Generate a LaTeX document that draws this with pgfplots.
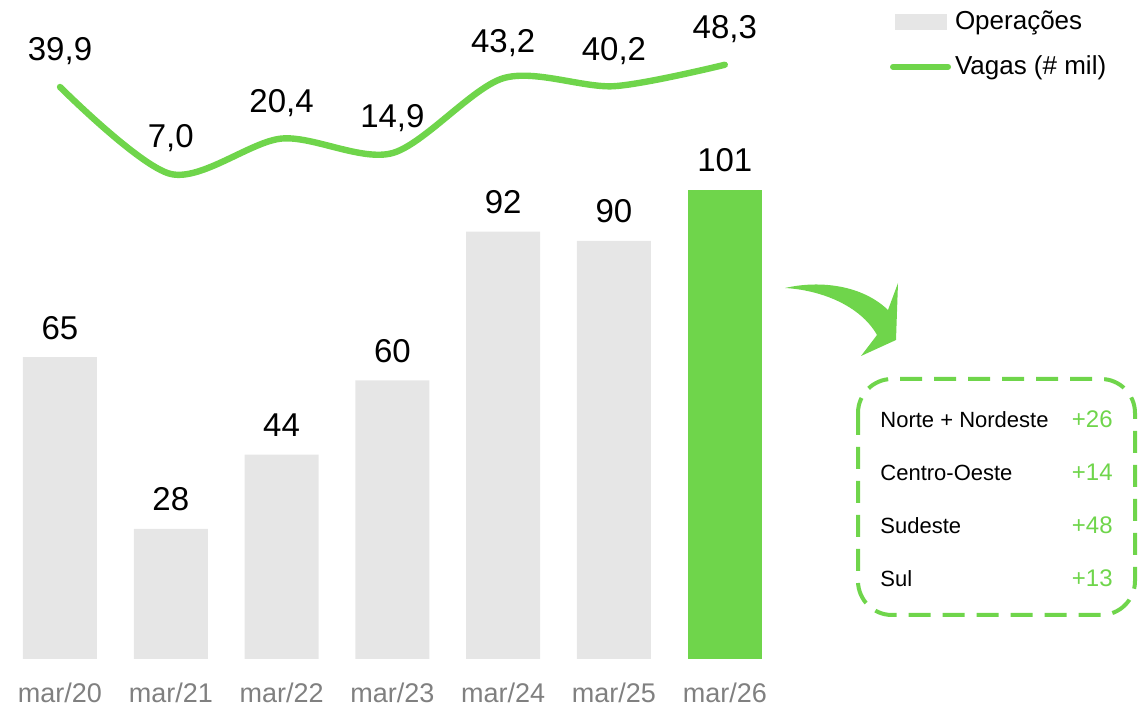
\documentclass[border=0pt]{standalone}
\usepackage{pgfplots}
\pgfplotsset{compat=1.18}
\usepackage{fontspec}
\setmainfont{Liberation Sans}
\definecolor{vgreen}{RGB}{111,213,75}
\definecolor{bgray}{RGB}{230,230,230}
\definecolor{tgray}{RGB}{128,128,128}
\begin{document}
\begin{tikzpicture}
\useasboundingbox (0,0) rectangle (573.5pt,353.5pt);
\begin{axis}[
  at={(2.3pt,24pt)}, anchor=south west,
  scale only axis, width=387.8pt, height=329.5pt,
  xmin=-0.5, xmax=6.5, ymin=0, ymax=141.87,
  ybar, bar width=37pt, bar shift=0pt,
  xtick={0,1,2,3,4,5,6},
  xticklabels={mar/20,mar/21,mar/22,mar/23,mar/24,mar/25,mar/26},
  xticklabel style={font=\fontsize{13.5}{16}\selectfont, text=tgray, anchor=base, yshift=-22pt},
  ytick=\empty,
  axis line style={draw=none}, major tick length=0pt,
  nodes near coords,
  nodes near coords style={font=\fontsize{16.5}{20}\selectfont, anchor=base, yshift=9pt, text=black},
  clip=false,
  legend style={at={(axis description cs:1.1416,0.989)}, anchor=north west, draw=none, fill=none,
    font=\fontsize{13}{15}\selectfont, row sep=7.5pt, inner sep=0pt, outer sep=0pt,
    nodes={xshift=-2pt}},
  legend cell align=left,
  /pgf/number format/assume math mode=true,
]
\addplot[fill=bgray, draw=none, legend image code/.code={\fill[bgray] (0pt,-4pt) rectangle (26pt,4pt);}]
  coordinates {(0,65) (1,28) (2,44) (3,60) (4,92) (5,90)};
\addlegendentry{Operações}
\addplot[fill=vgreen, draw=none, forget plot] coordinates {(6,101)};
\addlegendimage{legend image code/.code={\draw[vgreen, line width=3pt, line cap=round] (-1pt,0pt) -- (26.5pt,0pt);}}
\addlegendentry{Vagas (\# mil)}
\end{axis}
\begin{axis}[
  at={(2.3pt,257.25pt)}, anchor=south west,
  scale only axis, width=387.8pt, height=96.25pt,
  xmin=-0.5, xmax=6.5, ymin=0, ymax=72.8,
  hide axis, clip=false,
  nodes near coords,
  nodes near coords style={font=\fontsize{16.5}{20}\selectfont, anchor=base, yshift=13pt, text=black},
  /pgf/number format/use comma,
  /pgf/number format/fixed,
  /pgf/number format/fixed zerofill,
  /pgf/number format/precision=1,
  /pgf/number format/assume math mode=true,
]
\addplot[vgreen, line width=3.2pt, smooth, line cap=round]
  coordinates {(0,39.9) (1,7.0) (2,20.4) (3,14.9) (4,43.2) (5,40.2) (6,48.3)};
\end{axis}
\begin{scope}[x=0.5pt, y=-0.5pt, shift={(0pt,353.5pt)}]
  \fill[vgreen] (785,288) .. controls (820,280) and (862,285) .. (888,310) -- (898,283) -- (896,340)
     -- (861,356) -- (877,335) .. controls (860,305) and (820,290) .. (785,288) -- cycle;
  \draw[vgreen, line width=2pt, dash pattern=on 11pt off 6pt, rounded corners=17pt] (858,379) rectangle (1135,615);
  \begin{scope}[every node/.style={inner sep=0pt, font=\fontsize{11}{13}\selectfont}]
    \node[anchor=base west] at (880,428) {Norte + Nordeste};
    \node[anchor=base west] at (880,481) {Centro-Oeste};
    \node[anchor=base west] at (880,534) {Sudeste};
    \node[anchor=base west] at (880,587) {Sul};
  \end{scope}
  \begin{scope}[every node/.style={inner sep=0pt, text=vgreen, anchor=base east, font=\fontsize{12}{14}\selectfont}]
    \node at (1113,428) {+26};
    \node at (1113,481) {+14};
    \node at (1113,534) {+48};
    \node at (1113,587) {+13};
  \end{scope}
\end{scope}
\end{tikzpicture}
\end{document}
